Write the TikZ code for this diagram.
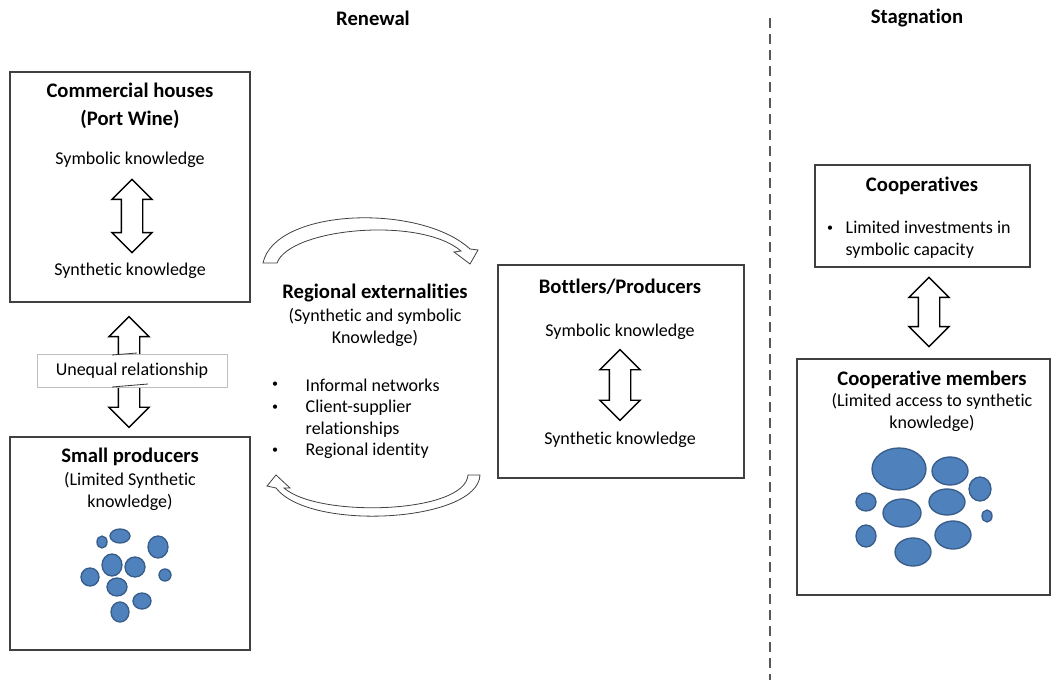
\documentclass[tikz,border=0pt]{standalone}
\usepackage{fontspec}
\setmainfont{Carlito}[Ligatures=NoCommon]
\usetikzlibrary{shapes.arrows}
\definecolor{BlobFill}{RGB}{79,129,189}
\definecolor{BlobLine}{RGB}{56,93,138}
\definecolor{BoxLine}{RGB}{64,64,64}
\tikzstyle{Box}=[draw=BoxLine,line width=1pt,inner sep=0pt]
\tikzstyle{Title}=[font=\fontsize{15.5}{21}\selectfont\bfseries,align=center]
\tikzstyle{Body}=[font=\fontsize{13.5}{16.5}\selectfont,align=center]
\tikzstyle{Dot}=[font=\fontsize{9}{9}\selectfont]
\tikzstyle{BiArrow}=[double arrow,draw,line width=1.1pt,rotate=90,inner xsep=0pt,inner ysep=7.5pt,
minimum width=29pt,double arrow head extend=7pt]
\tikzstyle{Blob}=[fill=BlobFill,draw=BlobLine,line width=1pt]
\tikzstyle{CurveArrow}=[draw=black!75,line width=0.6pt,fill=white]

\begin{document}
\begin{tikzpicture}[x=0.75pt,y=-0.75pt]
        \useasboundingbox(0,0)rectangle(1052,680);
        % headings and divider
        \node[Title](renewal)at(373,18){Renewal};
        \node[Title](stagnation)at(917,18){Stagnation};
        \draw[gray!70!black,line width=1.5pt,dash pattern=on 7.5pt off 4.5pt](770,18)--(770,680);
        % commercial houses
        \node[Box,minimum width=180pt,minimum height=172.5pt](comm)at(130,187){};
        \node[Title](commtitle)at(130,106){Commercial houses\\(Port Wine)};
        \node[Body](commsym)at(130,160){Symbolic knowledge};
        \node[Body](commsyn)at(130,271){Synthetic knowledge};
        \node[BiArrow,minimum height=55pt](commarrow)at(132,216){};
        % unequal relationship
        \node[BiArrow,minimum height=83pt](uneqarrow)at(129,372){};
        \node[Body,draw=black!25,fill=white,minimum width=142.5pt,minimum height=24.75pt,
        inner sep=0pt](uneq)at(132,370.5){Unequal relationship};
        \draw[black!80,line width=0.6pt](112,355)--(137,353);
        \draw[black!80,line width=0.6pt](112,387)--(148,384);
        % small producers
        \node[Box,minimum width=180pt,minimum height=159.75pt](small)at(130,543.5){};
        \node[Title](smalltitle)at(130,457){Small producers};
        \node[Body](smallsub)at(130,491){(Limited Synthetic\\knowledge)};
        \foreach \x/\y/\a/\b in {102/542/5/6,120/536/10/7,158/547/10/11,112/565/10/11,
            135/567/10/10,90/577/9/9,165/575/6/6,117/587/10/9,142/601/9/8,120/612/9/10}
            \draw[Blob](\x,\y)ellipse[x radius=\a*0.75pt,y radius=\b*0.75pt];
        % regional externalities
        \node[Title](regtitle)at(375,293){Regional externalities};
        \node[Body](regsub)at(375,327){(Synthetic and symbolic\\Knowledge)};
        \node[Dot](bulla)at(275,385){\textbullet};
        \node[Body,anchor=west](infnet)at(301,385){Informal networks};
        \node[Dot](bullb)at(275,408){\textbullet};
        \node[Body,anchor=west,align=left](client)at(301,418.5){Client-supplier\\relationships};
        \node[Dot](bullc)at(275,451){\textbullet};
        \node[Body,anchor=west](regid)at(301,451){Regional identity};
        \path[CurveArrow](263,263)--(277,263)..controls(290,228)and(420,216)..(461,251)
            --(454,252)--(470,264)--(478,250)--(470,249)..controls(420,203)and(275,208)..(263,263)--cycle;
        \path[CurveArrow](468,475)--(480,475)..controls(478,522)and(310,532)..(276,488)
            --(267,486)--(276,475)--(290,488)--(284,488)..controls(318,518)and(465,514)..(468,475)--cycle;
        % bottlers
        \node[Box,minimum width=184.5pt,minimum height=159.75pt](bott)at(621,371.5){};
        \node[Title](botttitle)at(620,287){Bottlers/Producers};
        \node[Body](bottsym)at(620,332){Symbolic knowledge};
        \node[Body](bottsyn)at(620,440){Synthetic knowledge};
        \node[BiArrow,minimum height=53pt](bottarrow)at(620,385){};
        % cooperatives
        \node[Box,minimum width=161.25pt,minimum height=76.5pt](coop)at(922.5,216){};
        \node[Title](cooptitle)at(922,186){Cooperatives};
        \node[Dot](bulld)at(830,229){\textbullet};
        \node[Body,anchor=west,align=left](coopinv)at(841,240){Limited investments in\\symbolic capacity};
        \node[BiArrow,minimum height=52pt](cooparrow)at(929,312){};
        % cooperative members
        \node[Box,minimum width=189.75pt,minimum height=177pt](memb)at(923.5,477){};
        \node[Title](membtitle)at(932,380){Cooperative members};
        \node[Body](membsub)at(932,412.5){(Limited access to synthetic\\knowledge)};
        \foreach \x/\y/\a/\b in {899/469/27/21,950/471/18/14,980/489/11/12,866/502/10/9,
            902/513/19/14,947/502/18/13,987/516/5/6,866/536/10/11,953/535/18/14,913/552/18/14}
            \draw[Blob](\x,\y)ellipse[x radius=\a*0.75pt,y radius=\b*0.75pt];
    \end{tikzpicture}
\end{document}
